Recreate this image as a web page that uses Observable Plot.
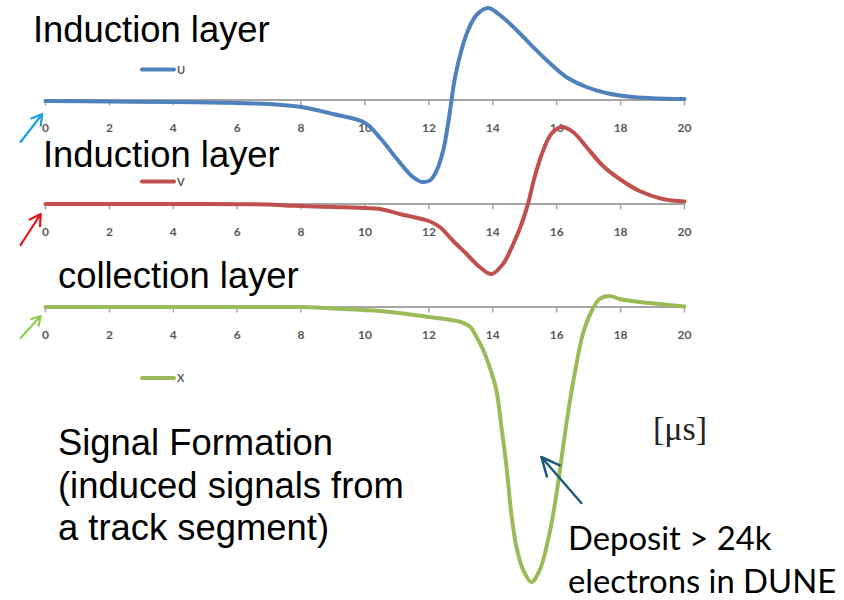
<!DOCTYPE html>
<html>
<head>
<meta charset="utf-8">
<script src="https://cdn.jsdelivr.net/npm/d3@7"></script>
<script src="https://cdn.jsdelivr.net/npm/@observablehq/plot@0.6"></script>
<style>
  body { margin: 0; background: #fff; }
  #wrap { position: relative; width: 844px; height: 600px; overflow: hidden; background: #fff; }
  #wrap svg { position: absolute; left: 0; top: 0; }
</style>
</head>
<body>
<div id="wrap"></div>
<script>
// ---------- data (time in µs, signal in arbitrary units) ----------
const ticks = [0, 2, 4, 6, 8, 10, 12, 14, 16, 18, 20];

const uT = [0, 2, 4, 6, 7, 8, 9, 10, 10.5, 11, 11.5, 11.8, 12.05, 12.25, 12.45, 12.6, 12.7, 12.82, 13.02, 13.23, 13.49, 13.85, 14.22, 14.74, 15.26, 15.78, 16.3, 16.93, 17.55, 18.38, 19.2, 20];
const uV = [-1, -1.5, -2, -3, -4, -7, -14, -23, -39, -59, -77, -82, -80, -70, -50, -24, -2, 23, 50, 70, 85, 92, 85, 70, 53, 37, 23, 13, 7, 3, 1.5, 1];

const vT = [0, 4, 7, 7.5, 8, 9, 10, 10.47, 11.09, 12, 12.34, 12.76, 13.18, 13.59, 13.96, 14.32, 14.64, 14.9, 15.1, 15.31, 15.57, 15.83, 16.15, 16.51, 16.93, 17.45, 17.97, 18.59, 19.32, 20];
const vV = [0, 0, -0.5, -1.5, -2, -3, -4, -5, -10, -17, -23, -37, -50, -63, -70, -60, -40, -20, 0, 27, 53, 70, 77, 72, 57, 38, 25, 13, 5, 2.5];

const xT = [0, 4, 8, 8.5, 9, 10, 10.47, 12, 13, 13.3, 13.49, 13.7, 13.9, 14.11, 14.27, 14.43, 14.58, 14.74, 14.95, 15.21, 15.47, 15.73, 15.89, 16.04, 16.2, 16.35, 16.56, 16.82, 17.08, 17.34, 17.66, 17.97, 18.59, 19.32, 20];
const xV = [0, 0, 0, -0.5, -1.5, -3, -4, -10, -15, -20, -30, -43, -60, -83, -120, -160, -207, -240, -263, -275, -263, -233, -207, -177, -140, -107, -67, -27, -5, 8, 11, 8, 5, 2.7, 0.5];

const seriesNames = ["U", "V", "X"];
const seriesColors = ["#4f81bd", "#c0504d", "#9bbb59"];

// annotation arrows (data coordinates of each panel)
const originArrows = [
  [{x1: -0.78, y1: -42, x2: -0.1, y2: -14}],
  [{x1: -0.78, y1: -41, x2: -0.15, y2: -10}],
  [{x1: -0.78, y1: -31, x2: -0.15, y2: -9}]
];
const originArrowColors = ["#1aa0e0", "#e8141c", "#8ccf50"];
const depositArrow = [{x1: 16.77, y1: -196, x2: 15.52, y2: -150}];

// ---------- layout (pixels) ----------
const W = 844, H = 600;
const xRange = [45, 684];
const baselines = [99.5, 203.5, 306.5];
const legendY = [69.5, 181.5, 378];

const wrap = document.getElementById("wrap");

function panel(i, T, V, extra) {
  const data = T.map((t, k) => ({t, v: V[k]}));
  const base = baselines[i];
  return Plot.plot({
    width: W, height: H, margin: 0,
    x: {domain: [0, 20], range: xRange, axis: null},
    y: {domain: [base - H, base], range: [H, 0], axis: null},
    style: {background: "transparent", overflow: "visible"},
    marks: [
      Plot.ruleY([0], {x1: 0, x2: 20, stroke: "#a6a6a6", strokeWidth: 2}),
      Plot.ruleX(ticks, {x: d => d, y1: 0, y2: -6, stroke: "#a6a6a6", strokeWidth: 1.5}),
      Plot.text(ticks, {x: d => d, y: 0, dy: 28, text: d => String(d), fontSize: 12, fontWeight: "bold",
        fill: "#595959", fontFamily: "Lato, 'Liberation Sans', sans-serif"}),
      Plot.line(data, {x: "t", y: "v", stroke: seriesColors[i], strokeWidth: 4, curve: "catmull-rom",
        strokeLinejoin: "round", strokeLinecap: "round"}),
      Plot.arrow(originArrows[i], {x1: "x1", y1: "y1", x2: "x2", y2: "y2",
        stroke: originArrowColors[i], strokeWidth: 2.2, headLength: 9}),
      ...(extra || [])
    ]
  });
}

wrap.appendChild(panel(0, uT, uV));
wrap.appendChild(panel(1, vT, vV));
wrap.appendChild(panel(2, xT, xV, [
  Plot.arrow(depositArrow, {x1: "x1", y1: "y1", x2: "x2", y2: "y2", stroke: "#1d5b78", strokeWidth: 2.5, headLength: 15, headAngle: 50})
]));

// ---------- legends and text annotations ----------
const svg = d3.select(wrap).append("svg").attr("width", W).attr("height", H)
  .style("overflow", "visible");

seriesNames.forEach((name, i) => {
  svg.append("line").attr("x1", 142).attr("x2", 174).attr("y1", legendY[i]).attr("y2", legendY[i])
    .attr("stroke", seriesColors[i]).attr("stroke-width", 4).attr("stroke-linecap", "round");
  svg.append("text").attr("x", 177).attr("y", legendY[i] + 4).text(name)
    .attr("font-family", "Lato, 'Liberation Sans', sans-serif").attr("font-size", 11).attr("font-weight", "bold")
    .attr("fill", "#595959");
});

const sans = "'Liberation Sans', Arial, sans-serif";
const bigText = [
  {t: "Induction layer", x: 33, y: 42},
  {t: "Induction layer", x: 43, y: 167},
  {t: "collection layer", x: 58, y: 288},
  {t: "Signal Formation", x: 58, y: 455},
  {t: "(induced signals from", x: 58, y: 497.5},
  {t: "a track segment)", x: 58, y: 540}
];
bigText.forEach(d => {
  svg.append("text").attr("x", d.x).attr("y", d.y).text(d.t)
    .attr("font-family", sans).attr("font-size", 36.4).attr("fill", "#000");
});

svg.append("text").attr("x", 653).attr("y", 440).text("[μs]")
  .attr("font-family", "'Liberation Serif', 'DejaVu Serif', serif").attr("font-size", 34).attr("fill", "#222");

[["Deposit > 24k", 550], ["electrons in DUNE", 593]].forEach(([t, y]) => {
  svg.append("text").attr("x", 568).attr("y", y).text(t)
    .attr("font-family", "Lato, 'Open Sans', sans-serif").attr("font-size", 32.8).attr("fill", "#000");
});
</script>
</body>
</html>
